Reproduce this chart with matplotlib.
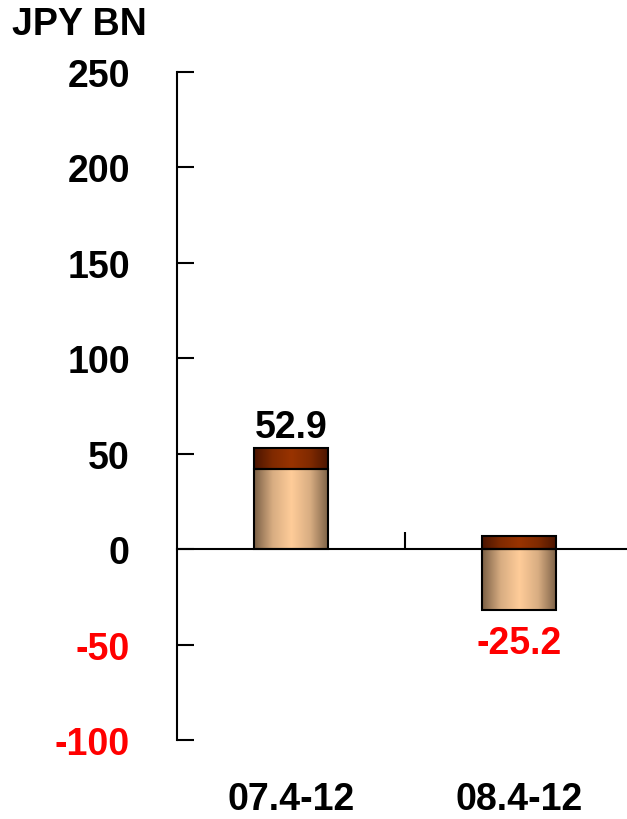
import numpy as np
import matplotlib.pyplot as plt
from matplotlib.colors import LinearSegmentedColormap

plt.rcParams['font.family'] = ['Liberation Sans', 'DejaVu Sans']
plt.rcParams['font.weight'] = 'bold'

# Values in JPY bn
categories = ["07.4-12", "08.4-12"]
base_part = [42.0, -32.0]
top_part = [10.9, 6.8]
totals = [52.9, -25.2]
yticks = [-100, -50, 0, 50, 100, 150, 200, 250]

light_cmap = LinearSegmentedColormap.from_list("light", ["#7a5f45", "#d8ad82", "#ffcc99", "#d8ad82", "#7a5f45"])
dark_cmap = LinearSegmentedColormap.from_list("dark", ["#4a1400", "#802a00", "#993300", "#802a00", "#4a1400"])

FS = 27

fig = plt.figure(figsize=(6.27, 8.2), dpi=100)
ax = fig.add_axes([177/627, 79/820, 450/627, 668/820])

x = np.arange(len(categories))
width = 0.325
top_bottom = np.maximum(base_part, 0)

bars_base = ax.bar(x, base_part, width, color="none", edgecolor="black", linewidth=1.5, zorder=3)
bars_top = ax.bar(x, top_part, width, bottom=top_bottom, color="none", edgecolor="black", linewidth=1.5, zorder=3)

# fill each bar with a horizontal cylinder-like gradient
grad = np.linspace(0, 1, 256).reshape(1, -1)
for bars, cmap in [(bars_base, light_cmap), (bars_top, dark_cmap)]:
    for b in bars:
        x0, y0 = b.get_x(), b.get_y()
        w, h = b.get_width(), b.get_height()
        im = ax.imshow(grad, cmap=cmap, aspect="auto", extent=[x0, x0 + w, y0, y0 + h], zorder=2)
        im.set_clip_path(b)

ax.set_xlim(-0.5, 1.474)
ax.set_ylim(-100, 250)

ax.spines['top'].set_visible(False)
ax.spines['right'].set_visible(False)
ax.spines['bottom'].set_position(('data', 0))
ax.spines['left'].set_linewidth(1.5)
ax.spines['bottom'].set_linewidth(1.5)

ax.set_yticks(yticks)
ax.set_yticklabels([str(t) for t in yticks])
ax.tick_params(axis='y', direction='in', length=12, width=1.5, pad=34, labelsize=FS)
for lbl, t in zip(ax.get_yticklabels(), yticks):
    lbl.set_fontweight('bold')
    lbl.set_color('red' if t < 0 else 'black')

ax.set_xticks([0.5])
ax.set_xticklabels([""])
ax.tick_params(axis='x', direction='in', length=12, width=1.5)

for i, cat in enumerate(categories):
    ax.text(i, -0.089, cat, transform=ax.get_xaxis_transform(), ha='center', va='center',
            fontsize=FS, fontweight='bold')

for i, tot in enumerate(totals):
    if tot >= 0:
        ax.annotate(f"{tot:.1f}", (i, tot), xytext=(0, 2), textcoords='offset points',
                    ha='center', va='bottom', fontsize=FS, fontweight='bold', color='black')
    else:
        ax.annotate(f"{tot:.1f}", (i, base_part[i]), xytext=(0, -11), textcoords='offset points',
                    ha='center', va='top', fontsize=FS, fontweight='bold', color='red')

fig.text(12/627, 1 - 25/820, "JPY BN", ha='left', va='center', fontsize=FS, fontweight='bold')

fig.savefig("out.png", dpi=100)
